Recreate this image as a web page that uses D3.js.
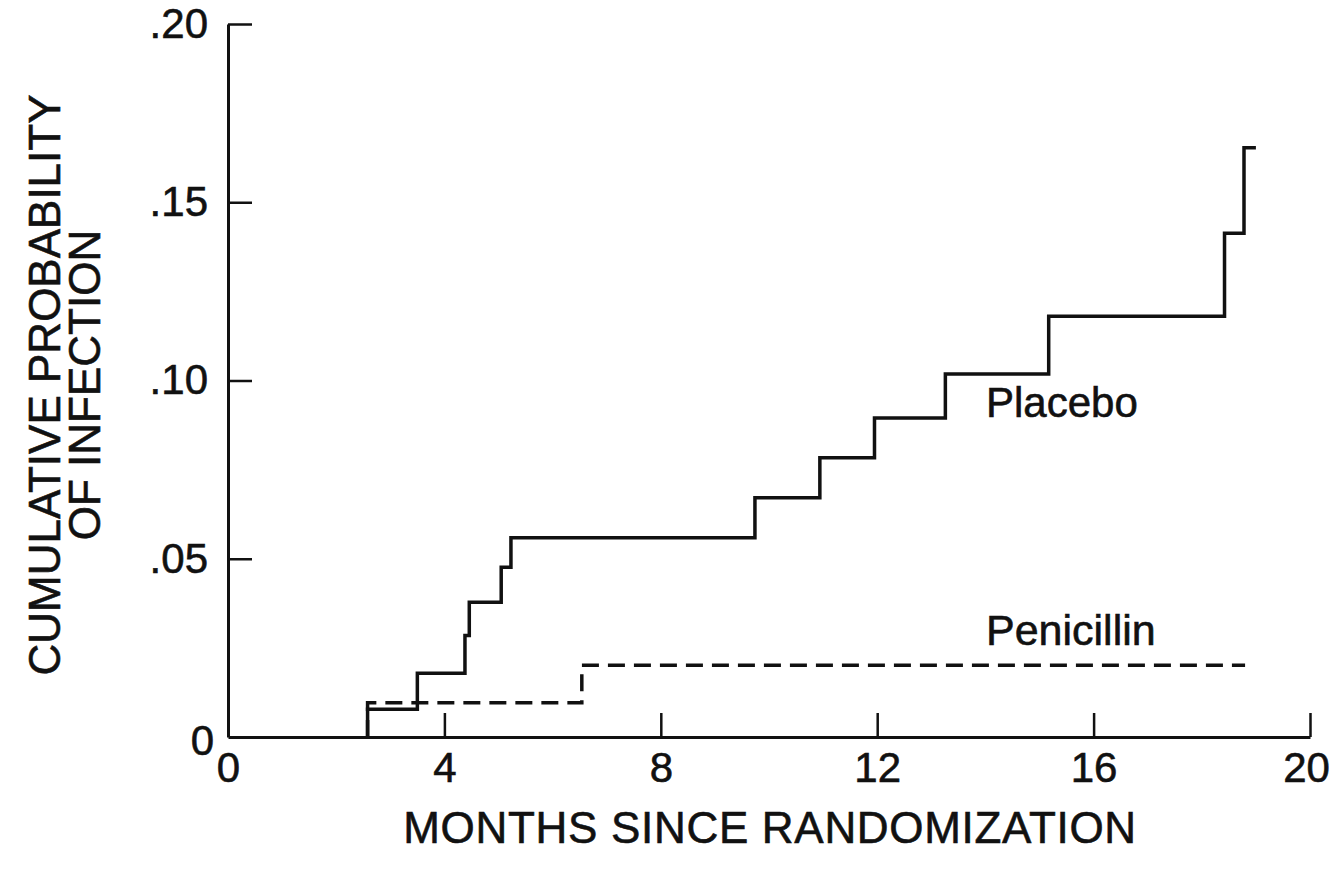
<!DOCTYPE html>
<html>
<head>
<meta charset="utf-8">
<script src="https://cdn.jsdelivr.net/npm/d3@7"></script>
<style>
  html, body { margin: 0; padding: 0; background: #fff; }
  svg { display: block; }
  text { font-family: "Liberation Sans", Arial, Helvetica, sans-serif; fill: #111; stroke: #111; stroke-width: 0.6px; }
</style>
</head>
<body>
<svg id="chart" width="1335" height="870"></svg>
<script>
// Kaplan-Meier style cumulative infection curves (step functions)
const placeboMonths = [2.58, 3.50, 4.38, 4.46, 5.05, 5.23, 9.74, 10.94, 11.95, 13.26, 15.17, 18.42, 18.78];
const placeboRisk   = [0.0078, 0.0179, 0.0285, 0.0378, 0.0476, 0.0559, 0.0671, 0.0783, 0.0895, 0.1018, 0.118, 0.1413, 0.1653];
const placeboEnd = 19.0;

const penicillinMonths = [2.58, 6.54];
const penicillinRisk   = [0.0096, 0.0201];
const penicillinEnd = 18.8;

const xTicks = [0, 4, 8, 12, 16, 20];
const yTicks = [0, 0.05, 0.10, 0.15, 0.20];

const seriesLabels = ["Placebo", "Penicillin"];
const xTitle = "MONTHS SINCE RANDOMIZATION";
const yTitle = ["CUMULATIVE PROBABILITY", "OF INFECTION"];

const svg = d3.select("#chart");
const x = d3.scaleLinear().domain([0, 20]).range([228, 1310]);
const y = d3.scaleLinear().domain([0, 0.20]).range([737, 24]);

const ink = "#111";
const fontSize = 42;
const titleSize = 44;

// axes with inward ticks
const yAxis = d3.axisLeft(y)
  .tickValues(yTicks)
  .tickSizeInner(-24)
  .tickSizeOuter(0)
  .tickPadding(20)
  .tickFormat(d => d === 0 ? "0" : d3.format(".2f")(d).replace(/^0/, ""));

const xAxis = d3.axisBottom(x)
  .tickValues(xTicks)
  .tickSizeInner(-24)
  .tickSizeOuter(0)
  .tickPadding(15)
  .tickFormat(d3.format("d"));

const gy = svg.append("g").attr("transform", `translate(${x(0)},0)`).call(yAxis);
const gx = svg.append("g").attr("transform", `translate(0,${y(0)})`).call(xAxis);

[gx, gy].forEach(g => {
  g.select(".domain").attr("stroke", ink).attr("stroke-width", 3);
  g.selectAll(".tick line").attr("stroke", ink).attr("stroke-width", 2.5);
  g.selectAll(".tick text")
    .attr("fill", ink)
    .attr("stroke", ink)
    .attr("stroke-width", 0.6)
    .style("font-size", fontSize + "px")
    .style("font-family", '"Liberation Sans", Arial, sans-serif');
});
gx.selectAll(".tick").filter(d => d === 0).select("line").remove();
gy.selectAll(".tick").filter(d => d === 0).select("line").remove();
gy.selectAll(".tick").filter(d => d === 0).select("text").attr("dy", "0.42em").attr("x", -14);
gx.selectAll(".tick").filter(d => d === 20).select("text").attr("x", -4);

// step curves
function stepPoints(months, risk, end) {
  const pts = [[months[0], 0]];
  months.forEach((m, i) => pts.push([m, risk[i]]));
  pts.push([end, risk[risk.length - 1]]);
  return pts;
}

const line = d3.line()
  .x(d => x(d[0]))
  .y(d => y(d[1]))
  .curve(d3.curveStepAfter);

svg.append("path")
  .datum(stepPoints(penicillinMonths, penicillinRisk, penicillinEnd))
  .attr("d", line)
  .attr("fill", "none")
  .attr("stroke", ink)
  .attr("stroke-width", 3.5)
  .attr("stroke-dasharray", "17,9");

svg.append("path")
  .datum(stepPoints(placeboMonths, placeboRisk, placeboEnd))
  .attr("d", line)
  .attr("fill", "none")
  .attr("stroke", ink)
  .attr("stroke-width", 3.5);

// series labels
svg.append("text")
  .attr("x", 986).attr("y", 417)
  .style("font-size", fontSize + "px")
  .text(seriesLabels[0]);

svg.append("text")
  .attr("x", 986).attr("y", 645)
  .style("font-size", (fontSize + 1) + "px")
  .text(seriesLabels[1]);

// axis titles
svg.append("text")
  .attr("x", 770).attr("y", 843)
  .attr("text-anchor", "middle")
  .style("font-size", titleSize + "px")
  .style("letter-spacing", "0.7px")
  .text(xTitle);

svg.append("text")
  .attr("transform", "translate(60,385) rotate(-90)")
  .attr("text-anchor", "middle")
  .style("font-size", titleSize + "px")
  .text(yTitle[0]);

svg.append("text")
  .attr("transform", "translate(100,385) rotate(-90)")
  .attr("text-anchor", "middle")
  .style("font-size", titleSize + "px")
  .text(yTitle[1]);
</script>
</body>
</html>
